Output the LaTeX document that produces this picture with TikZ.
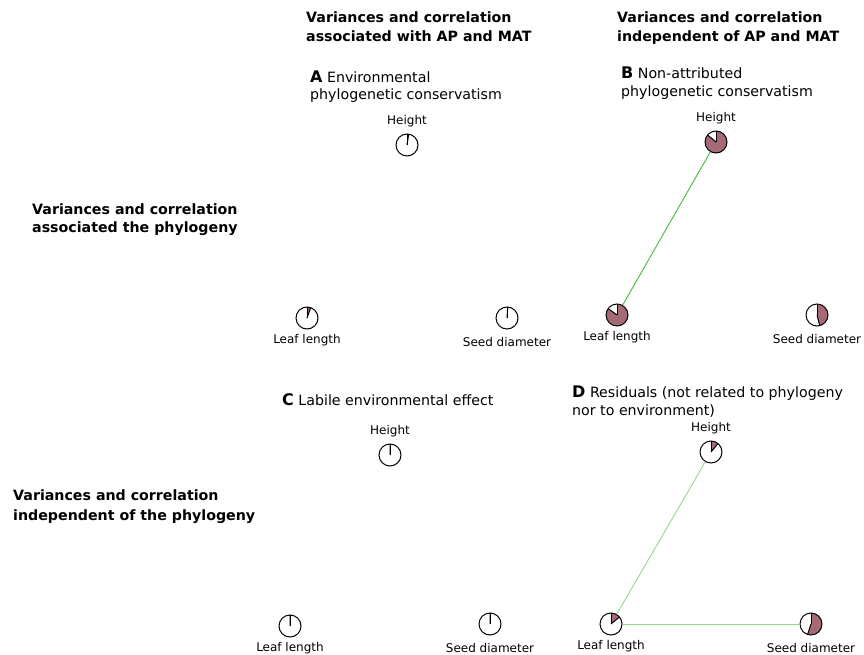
\documentclass[tikz,border=0pt]{standalone}
\usepackage{fontspec}
\setmainfont{DejaVu Sans}
\definecolor{wine}{RGB}{166, 106, 118}
\definecolor{linkgreen}{RGB}{72, 182, 62}
\definecolor{palegreen}{RGB}{150, 216, 140}
\usepackage{tikz}
\usetikzlibrary{positioning}
\newcommand{\panelletter}[1]{{\fontsize{16}{17}\selectfont\bfseries #1}}
\tikzset{
    heading/.style={anchor=base west, align=left, inner sep=0pt, font=\fontsize{14.2}{19}\selectfont\bfseries},
    paneltitle/.style={anchor=base west, align=left, inner sep=0pt, font=\fontsize{14.2}{17}\selectfont},
    traitlabel/.style={inner sep=0pt, font=\fontsize{12}{14}\selectfont},
    pie/.style={circle, draw=black, fill=white, line width=1pt, minimum size=22pt, inner sep=0pt, path picture={
        \fill[wine] (path picture bounding box.center) -- ++(90:11pt) arc[start angle=90, end angle={90-360*#1}, radius=11pt] -- cycle;
        \draw[line width=1pt] (path picture bounding box.center) -- ++(90:11pt);
        \draw[line width=1pt] (path picture bounding box.center) -- ++({90-360*#1}:11pt);}},
    toplabel/.style={label={[traitlabel, label distance=6.7pt]above:#1}},
    leaflabel/.style={label={[traitlabel, label distance=4.5pt]below:#1}},
    seedlabel/.style={label={[traitlabel, label distance=7.5pt]below:#1}},
    link/.style={line width=0.9pt, linkgreen},
    weaklink/.style={line width=0.9pt, palegreen}
}

\begin{document}
\begin{tikzpicture}[x=1pt, y=-1pt]
        \useasboundingbox (0,0) rectangle (864,655);

        % Column and row headings (anchored on the last line)
        \node[heading] (headAP) at (306, 42) {Variances and correlation\\associated with AP and MAT};
        \node[heading] (headNoAP) at (617, 42) {Variances and correlation\\independent of AP and MAT};
        \node[heading, font=\fontsize{14.2}{18}\selectfont\bfseries] (rowPhy) at (32, 232.7) {Variances and correlation\\associated the phylogeny};
        \node[heading, font=\fontsize{14.2}{20}\selectfont\bfseries] (rowNoPhy) at (13, 520.7) {Variances and correlation\\independent of the phylogeny};

        % Panel titles
        \node[paneltitle] (titleA) at (310, 100) {\panelletter{A} Environmental\\phylogenetic conservatism};
        \node[paneltitle, font=\fontsize{14.2}{17.7}\selectfont] (titleB) at (621, 96.4) {\panelletter{B} Non-attributed\\phylogenetic conservatism};
        \node[paneltitle] (titleC) at (282, 405.4) {\panelletter{C} Labile environmental effect};
        \node[paneltitle, font=\fontsize{14.2}{18}\selectfont] (titleD) at (572, 415.4) {\panelletter{D} Residuals (not related to phylogeny\\nor to environment)};

        % Panel A pies
        \node[pie=0.025, toplabel=Height] (aH) at (407, 145) {};
        \node[pie=0.055, leaflabel=Leaf length] (aL) at (307, 318) {};
        \node[pie=0.01, seedlabel=Seed diameter] (aS) at (507, 318) {};

        % Panel B pies
        \node[pie=0.86, toplabel=Height] (bH) at (716, 142) {};
        \node[pie=0.85, leaflabel=Leaf length] (bL) at (617, 315) {};
        \node[pie=0.46, seedlabel=Seed diameter] (bS) at (817, 315) {};

        % Panel C pies
        \node[pie=0.003, toplabel=Height] (cH) at (390, 455) {};
        \node[pie=0.003, leaflabel=Leaf length] (cL) at (290, 626) {};
        \node[pie=0.003, seedlabel=Seed diameter] (cS) at (490, 624) {};

        % Panel D pies
        \node[pie=0.11, toplabel=Height] (dH) at (711, 452) {};
        \node[pie=0.14, leaflabel=Leaf length] (dL) at (611, 624) {};
        \node[pie=0.55, seedlabel=Seed diameter] (dS) at (811, 624) {};

        % Correlations
        \draw[link] (bH) -- (bL);
        \draw[weaklink] (dH) -- (dL);
        \draw[weaklink] (dL) -- (dS);
    \end{tikzpicture}
\end{document}
